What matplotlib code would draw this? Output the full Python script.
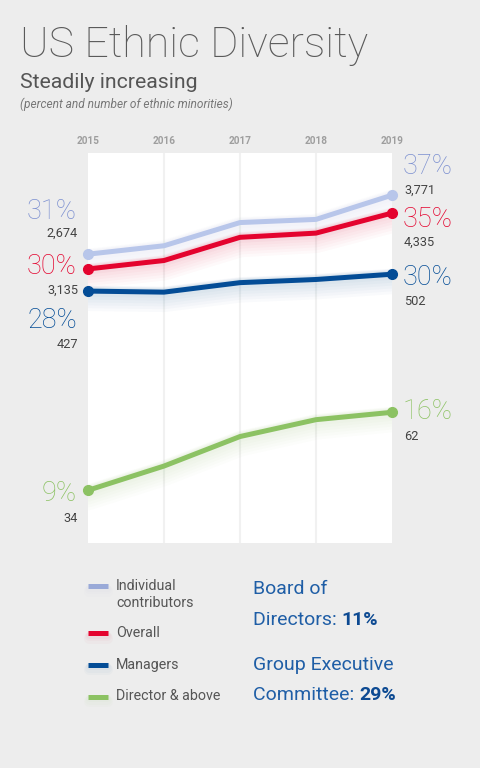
import matplotlib
matplotlib.use("Agg")
import matplotlib.pyplot as plt
import matplotlib.transforms as mtransforms

years = [2015, 2016, 2017, 2018, 2019]
series_names = ["Individual\ncontributors", "Overall", "Managers", "Director & above"]
individual = [31.4, 32.2, 34.4, 34.7, 37.0]
overall = [30.0, 30.8, 33.0, 33.4, 35.3]
managers = [27.9, 27.8, 28.7, 29.0, 29.5]
director = [9.0, 11.3, 14.1, 15.7, 16.4]
start_pct = ["31%", "30%", "28%", "9%"]
start_cnt = ["2,674", "3,135", "427", "34"]
end_pct = ["37%", "35%", "30%", "16%"]
end_cnt = ["3,771", "4,335", "502", "62"]
board_text = ("Board of", "Directors: ", "11%")
gec_text = ("Group Executive", "Committee: ", "29%")

line_colors = ["#B8C6EA", "#E4032E", "#034C96", "#8CC263"]
legend_colors = ["#9AAAD8", "#E4032E", "#034C96", "#8CC263"]
label_colors = ["#7B8FD0", "#E4032E", "#034C96", "#8CC263"]
BG = "#EDEDED"
FONT = ["Roboto", "DejaVu Sans"]

W, H = 480, 768
fig = plt.figure(figsize=(W / 100, H / 100), dpi=100, facecolor=BG)
plt.rcParams['font.family'] = FONT

def fx(x):
    return x / W

def fy(y):
    return 1 - y / H

ax = fig.add_axes([fx(88), fy(543), fx(392) - fx(88), fy(153) - fy(543)])
ax.set_facecolor("white")
ax.set_xlim(2015, 2019)
ax.set_ylim(4, 41)
for s in ax.spines.values():
    s.set_visible(False)
ax.set_xticks([])
ax.set_yticks([])
for yr in years[1:-1]:
    ax.axvline(yr, color="#F1F1F1", lw=1.5, zorder=1)

data = [individual, overall, managers, director]
order = [3, 2, 0, 1]
for i in order:
    vals = data[i]
    c = line_colors[i]
    for k in range(1, 7):
        tr = mtransforms.offset_copy(ax.transData, fig=fig, x=0, y=-1.2 * k, units='dots')
        ax.plot(years, vals, color=c, lw=4 + 2.4 * k, alpha=0.025, transform=tr,
                solid_capstyle='round', zorder=2, clip_on=True)
    ax.plot(years, vals, color=c, lw=3.6, zorder=3 + i, solid_capstyle='round', clip_on=False)
    ax.plot([years[0], years[-1]], [vals[0], vals[-1]], 'o', color=c, ms=7, zorder=4 + i, clip_on=False)

# Year labels
for yr in years:
    ax.annotate(str(yr), xy=(yr, 41), xycoords='data', xytext=(0, 12.5), textcoords='offset pixels',
                ha='center', va='center', fontsize=7.2, fontweight='bold', color="#9E9E9E",
                annotation_clip=False)

# End labels
left_pct_off = [43, 2.6, -29.3, -3.3]
left_cnt_off = [20.6, -21, -53.3, -28.3]
right_pct_off = [28.6, -6.7, -3, 1]
right_cnt_off = [4.8, -29.4, -27, -24]
for i in range(4):
    vals = data[i]
    ax.annotate(start_pct[i], xy=(years[0], vals[0]), xytext=(-11, left_pct_off[i]),
                textcoords='offset pixels', ha='right', va='center', fontsize=19.5,
                fontweight='light', color=label_colors[i], annotation_clip=False)
    ax.annotate(start_cnt[i], xy=(years[0], vals[0]), xytext=(-10, left_cnt_off[i]),
                textcoords='offset pixels', ha='right', va='center', fontsize=9.2,
                color="#444444", annotation_clip=False)
    ax.annotate(end_pct[i], xy=(years[-1], vals[-1]), xytext=(11, right_pct_off[i]),
                textcoords='offset pixels', ha='left', va='center', fontsize=19.5,
                fontweight='light', color=label_colors[i], annotation_clip=False)
    ax.annotate(end_cnt[i], xy=(years[-1], vals[-1]), xytext=(12, right_cnt_off[i]),
                textcoords='offset pixels', ha='left', va='center', fontsize=9.2,
                color="#444444", annotation_clip=False)

# Titles
fig.text(fx(20), fy(45), "US Ethnic Diversity", fontsize=31, fontweight='light',
         color="#5A5A5A", ha='left', va='center')
fig.text(fx(20), fy(82), "Steadily increasing", fontsize=15.3, color="#555555",
         ha='left', va='center')
fig.text(fx(20), fy(104), "(percent and number of ethnic minorities)", fontsize=8.6,
         style='italic', color="#777777", ha='left', va='center')

# Legend
leg_y = [586, 633, 664.5, 696.5]
txt_y = [594.5, 633, 665, 696.5]
for i in range(4):
    y = leg_y[i]
    for k in range(1, 4):
        fig.add_artist(plt.Line2D([fx(89), fx(107)], [fy(y + 1.5 * k), fy(y + 1.5 * k)],
                                  color=legend_colors[i], lw=3.5 + 1.5 * k,
                                  alpha=0.025, solid_capstyle='round'))
    fig.add_artist(plt.Line2D([fx(88), fx(108)], [fy(y), fy(y)],
                              color=legend_colors[i], lw=3.6, solid_capstyle='butt'))
    fig.text(fx(116), fy(txt_y[i]), series_names[i], fontsize=10.3, color="#555555",
             ha='left', va='center', linespacing=1.2)

# Board / GEC blocks
BLUE = "#1F5EA6"
DBLUE = "#0D4A92"
FS = 14
fig.text(fx(253), fy(589), board_text[0], fontsize=FS, color=BLUE, ha='left', va='center')
t = fig.text(fx(253), fy(620), board_text[1], fontsize=FS, color=BLUE, ha='left', va='center')
fig.canvas.draw()
bb = t.get_window_extent()
fig.text(bb.x1 / W, fy(620), board_text[2], fontsize=FS, color=DBLUE, fontweight='bold',
         ha='left', va='center')
fig.text(fx(253), fy(665), gec_text[0], fontsize=FS, color=BLUE, ha='left', va='center')
t2 = fig.text(fx(253), fy(695), gec_text[1], fontsize=FS, color=BLUE, ha='left', va='center')
fig.canvas.draw()
bb2 = t2.get_window_extent()
fig.text(bb2.x1 / W, fy(695), gec_text[2], fontsize=FS, color=DBLUE, fontweight='bold',
         ha='left', va='center')

fig.savefig("out.png", dpi=100, facecolor=BG)
